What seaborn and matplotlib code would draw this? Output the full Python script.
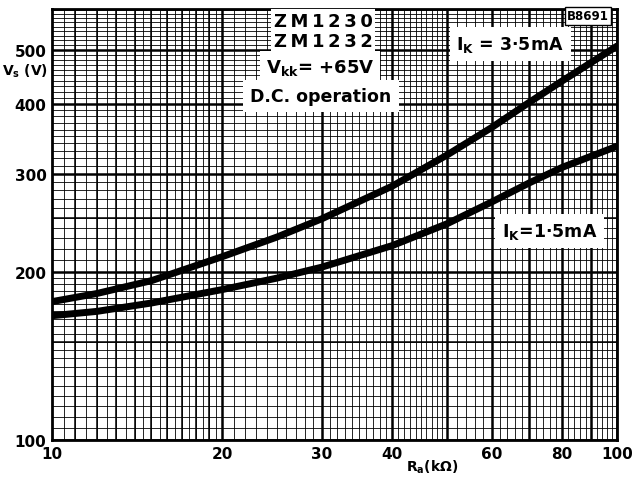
import numpy as np
import pandas as pd
import matplotlib
matplotlib.use("Agg")
import matplotlib.pyplot as plt
import seaborn as sns

# Values (log-log paper)
ra_kohm = [10, 12, 15, 20, 25, 30, 40, 50, 60, 70, 80, 100]
vs_35ma = [177, 183, 193, 213, 231, 249, 285, 324, 363, 403, 440, 508]
vs_15ma = [167, 170, 176, 186, 195, 204, 223, 244, 267, 289, 308, 336]

x_ticks = [10, 20, 30, 40, 60, 80, 100]
y_ticks = [100, 200, 300, 400, 500]

df = pd.DataFrame({
    "Ra": ra_kohm * 2,
    "Vs": vs_35ma + vs_15ma,
    "Ik": ["3.5mA"] * len(ra_kohm) + ["1.5mA"] * len(ra_kohm),
})

sns.set_style("white")
plt.rcParams["font.family"] = ["DejaVu Sans"]
plt.rcParams["text.color"] = "black"
plt.rcParams["xtick.color"] = "black"
plt.rcParams["ytick.color"] = "black"

fig = plt.figure(figsize=(6.35, 4.81), dpi=100)
ax = fig.add_axes([52 / 635, 40 / 481, 565 / 635, 431 / 481])
ax.set_xscale("log")
ax.set_yscale("log")
ax.set_xlim(10, 100)
ax.set_ylim(100, 592)

# graph paper grid
fine_x = np.concatenate([np.arange(10, 20, 0.5), np.arange(20, 50, 1), np.arange(50, 100, 2)])
fine_y = np.concatenate([np.arange(100, 200, 5), np.arange(200, 600, 10)])
for v in fine_x:
    ax.axvline(v, color="black", lw=0.6, zorder=0)
for v in fine_y:
    ax.axhline(v, color="black", lw=0.6, zorder=0)
for v in list(range(10, 20)) + list(range(20, 101, 10)):
    ax.axvline(v, color="black", lw=1.1 if v < 20 else 1.8, zorder=0)
for v in [150, 250] + y_ticks:
    ax.axhline(v, color="black", lw=1.8 if v in y_ticks else 1.1, zorder=0)

sns.lineplot(data=df, x="Ra", y="Vs", hue="Ik", palette=["black", "black"],
             linewidth=5, legend=False, ax=ax, zorder=3)

ax.set_xticks(x_ticks)
ax.set_xticklabels([str(t) for t in x_ticks])
ax.set_yticks(y_ticks)
ax.set_yticklabels([str(t) for t in y_ticks])
ax.xaxis.set_minor_locator(matplotlib.ticker.NullLocator())
ax.yaxis.set_minor_locator(matplotlib.ticker.NullLocator())
ax.tick_params(length=0, pad=4, labelsize=11, colors="black")
for lab in ax.get_xticklabels() + ax.get_yticklabels():
    lab.set_fontweight("bold")
ax.set_xlabel("")
ax.set_ylabel("")
for s in ax.spines.values():
    s.set_color("black")
    s.set_linewidth(2)

# axis titles
ax.text(-0.048, 0.858, r"V$_\mathbf{s}$ (V)", transform=ax.transAxes, ha="center",
        va="center", fontsize=10, fontweight="bold")
ax.text(0.673, -0.06, r"R$_\mathbf{a}$(k$\mathbf{\Omega}$)", transform=ax.transAxes,
        ha="center", va="center", fontsize=10, fontweight="bold")

box = dict(facecolor="white", edgecolor="none", pad=2)
ts = "\u2009"
ax.text(0.48, 0.972, ts.join("ZM1230"), transform=ax.transAxes, ha="center", va="center",
        fontsize=13, fontweight="bold", bbox=box, zorder=5)
ax.text(0.48, 0.926, ts.join("ZM1232"), transform=ax.transAxes, ha="center", va="center",
        fontsize=13, fontweight="bold", bbox=box, zorder=5)
ax.text(0.475, 0.866, r"V$_\mathbf{kk}$= +65V", transform=ax.transAxes, ha="center",
        va="center", fontsize=13, fontweight="bold",
        bbox=dict(facecolor="white", edgecolor="none", pad=4), zorder=5)
ax.text(0.476, 0.798, "D.C. operation", transform=ax.transAxes, ha="center",
        va="center", fontsize=12.5, fontweight="bold",
        bbox=dict(facecolor="white", edgecolor="none", pad=5), zorder=5)
ax.text(0.811, 0.919, r"I$_\mathbf{K}$ = 3·5mA", transform=ax.transAxes, ha="center",
        va="center", fontsize=12.5, fontweight="bold",
        bbox=dict(facecolor="white", edgecolor="none", pad=5), zorder=5)
ax.text(0.881, 0.485, r"I$_\mathbf{K}$=1·5mA", transform=ax.transAxes, ha="center",
        va="center", fontsize=12.5, fontweight="bold",
        bbox=dict(facecolor="white", edgecolor="none", pad=5), zorder=5)
ax.text(0.949, 0.984, "B8691", transform=ax.transAxes, ha="center", va="center",
        fontsize=8.5, fontweight="bold",
        bbox=dict(facecolor="white", edgecolor="black", pad=1.5), zorder=5)

fig.savefig("out.png", dpi=100)
